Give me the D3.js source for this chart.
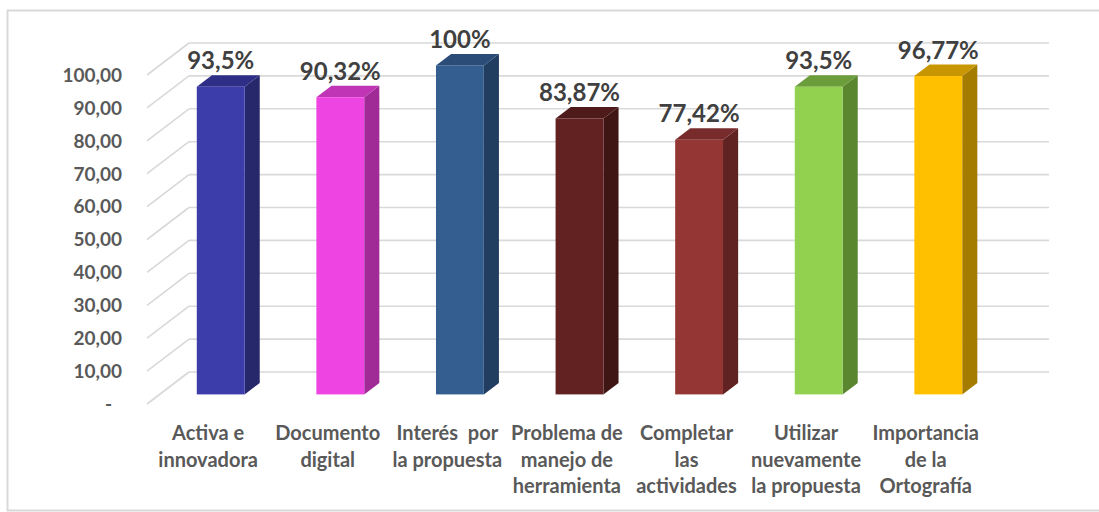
<!DOCTYPE html>
<html>
<head>
<meta charset="utf-8">
<script src="https://cdn.jsdelivr.net/npm/d3@7"></script>
<style>
  html, body { margin: 0; padding: 0; background: #ffffff; }
  svg { display: block; }
  text { font-family: "Lato", "Open Sans", sans-serif; }
</style>
</head>
<body>
<svg id="chart" width="1099" height="512"></svg>
<script>
// Survey results per item (percent)
const categories = [
  "Activa e innovadora",
  "Documento digital",
  "Interés por la propuesta",
  "Problema de manejo de herramienta",
  "Completar las actividades",
  "Utilizar nuevamente la propuesta",
  "Importancia de la Ortografía"
];
const categoryLines = [
  ["Activa e", "innovadora"],
  ["Documento", "digital"],
  ["Interés  por", "la propuesta"],
  ["Problema de", "manejo de", "herramienta"],
  ["Completar", "las", "actividades"],
  ["Utilizar", "nuevamente", "la propuesta"],
  ["Importancia", "de la", "Ortografía"]
];
const values = [93.5, 90.32, 100, 83.87, 77.42, 93.5, 96.77];
const valueLabels = ["93,5%", "90,32%", "100%", "83,87%", "77,42%", "93,5%", "96,77%"];
const yTicks = [0, 10, 20, 30, 40, 50, 60, 70, 80, 90, 100];

// Palette: front face, top face, side face per bar
const frontColors = ["#3c3cab", "#ee44e2", "#345e90", "#622221", "#943634", "#92d050", "#ffc000"];
const topColors   = ["#2e2e86", "#bf35b5", "#2a4c76", "#4f1b1a", "#772b2a", "#6c9d3b", "#c89600"];
const sideColors  = ["#27276c", "#a02b97", "#213d60", "#401615", "#612322", "#5b8630", "#a47c00"];

const svg = d3.select("#chart");

// Outer chart-area frame
svg.append("rect")
  .attr("x", 7.5).attr("y", 10.5)
  .attr("width", 1100).attr("height", 500)
  .attr("fill", "#ffffff")
  .attr("stroke", "#d9d9d9").attr("stroke-width", 2);

// Oblique 3D projection: full depth of the floor, in screen pixels
const depth = { dx: 42, dy: -32 };
const barDepthFront = 0.30;   // fraction of the depth where bar front faces sit
const barDepthBack = 0.66;    // fraction of the depth where bar back faces sit

const wallLeft = 147, wallRight = 1007;   // front-plane x extent of the floor

const y = d3.scaleLinear().domain([0, 100]).range([404, 75]);
const x = d3.scaleBand()
  .domain(categories)
  .range([148.3, 985.5])
  .paddingInner(0.6)
  .paddingOuter(0.3);

const locale = d3.formatLocale({ decimal: ",", thousands: ".", grouping: [3], currency: ["", ""] });
const fmt = locale.format(".2f");

// Back wall gridlines and side wall lines
const grid = svg.append("g").attr("stroke", "#d9d9d9").attr("stroke-width", 1.6).attr("fill", "none");
yTicks.forEach(t => {
  const yf = y(t), yb = y(t) + depth.dy;
  grid.append("line")
    .attr("x1", wallLeft + depth.dx).attr("y1", yb)
    .attr("x2", wallRight + depth.dx).attr("y2", yb);
  grid.append("line")
    .attr("x1", wallLeft).attr("y1", yf)
    .attr("x2", wallLeft + depth.dx).attr("y2", yb);
});

// Y-axis tick labels
const yAxis = svg.append("g")
  .attr("font-size", 19).attr("font-weight", 700).attr("fill", "#595959")
  .attr("text-anchor", "end");
yTicks.forEach(t => {
  yAxis.append("text")
    .attr("x", t === 0 ? 112 : 122)
    .attr("y", y(t) + 2)
    .attr("dominant-baseline", "middle")
    .text(t === 0 ? "-" : fmt(t));
});

// Bars
const ox1 = depth.dx * barDepthFront, oy1 = depth.dy * barDepthFront;
const ox2 = depth.dx * barDepthBack,  oy2 = depth.dy * barDepthBack;
const bw = x.bandwidth();

const bars = svg.append("g");
categories.forEach((c, i) => {
  const v = values[i];
  const xl = x(c) + ox1, xr = x(c) + bw + ox1;
  const yt = y(v) + oy1, yb = y(0) + oy1;
  const ddx = ox2 - ox1, ddy = oy2 - oy1;
  const g = bars.append("g");
  // side face
  g.append("path")
    .attr("d", `M${xr},${yb}L${xr},${yt}L${xr + ddx},${yt + ddy}L${xr + ddx},${yb + ddy}Z`)
    .attr("fill", sideColors[i]);
  // top face
  g.append("path")
    .attr("d", `M${xl},${yt}L${xr},${yt}L${xr + ddx},${yt + ddy}L${xl + ddx},${yt + ddy}Z`)
    .attr("fill", topColors[i]);
  // front face
  g.append("rect")
    .attr("x", xl).attr("y", yt)
    .attr("width", bw).attr("height", yb - yt)
    .attr("fill", frontColors[i]);
  // value label
  svg.append("text")
    .attr("x", xl + bw / 2)
    .attr("y", y(v) + oy2 - 6)
    .attr("text-anchor", "middle")
    .attr("font-size", 24).attr("font-weight", 700).attr("fill", "#404040")
    .text(valueLabels[i]);
});

// Category labels
const xAxis = svg.append("g")
  .attr("font-size", 20).attr("font-weight", 700).attr("fill", "#595959")
  .attr("text-anchor", "middle");
categories.forEach((c, i) => {
  const t = xAxis.append("text")
    .attr("x", x(c) + bw / 2)
    .attr("y", 440)
    .style("white-space", "pre");
  categoryLines[i].forEach((line, k) => {
    t.append("tspan")
      .attr("x", x(c) + bw / 2)
      .attr("y", 440 + k * 26.5)
      .text(line);
  });
});
</script>
</body>
</html>
